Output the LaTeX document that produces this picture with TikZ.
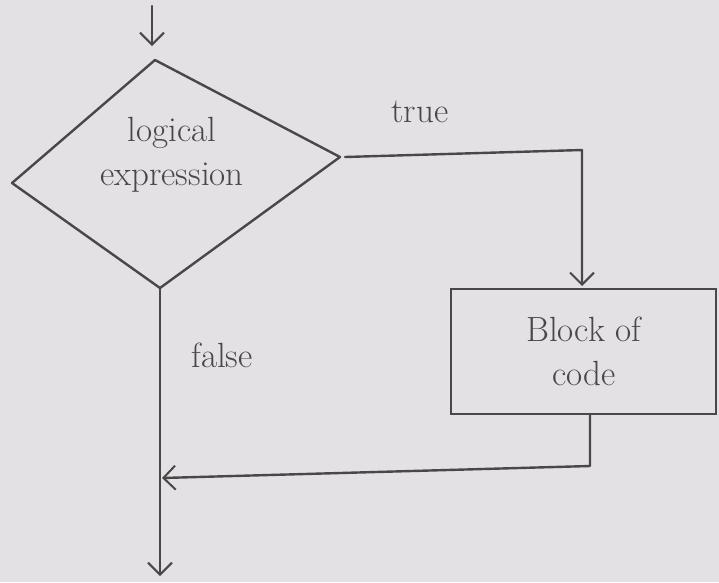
\documentclass[tikz,border=0pt]{standalone}
\usetikzlibrary{arrows.meta}
\definecolor{paper}{HTML}{E3E1E4}
\definecolor{pencil}{HTML}{4A4748}
\begin{document}
\begin{tikzpicture}[x=1pt,y=-1pt,
  line/.style={draw=pencil,line width=2.4pt,line cap=round,line join=round},
  tip/.style={-{Straight Barb[length=12pt,width=24pt,line width=2pt]}},
  lbl/.style={text=pencil,font=\fontsize{35}{44}\selectfont,align=center}]
  % paper
  \fill[paper] (0,0) rectangle (719,582);
  \useasboundingbox (0,0) rectangle (719,582);
  % decision diamond
  \coordinate (dT) at (155,60);
  \coordinate (dR) at (340,157);
  \coordinate (dB) at (160,288);
  \coordinate (dL) at (12,183);
  \draw[line] (dT) -- (dR) -- (dB) -- (dL) -- cycle;
  \node[lbl] (cond) at (172,155) {logical\\expression};
  % process box
  \node[draw=pencil,line width=2.4pt,minimum width=265pt,minimum height=125pt,
        lbl,anchor=north west] (blk) at (450,288) {Block of\\code};
  % entry
  \coordinate (in) at (152,6);
  \draw[line,tip] (in) -- (152,46);
  % true branch
  \coordinate (tc) at (582,150);
  \draw[line,tip] (345,157) -- (tc) -- (582,286);
  \node[lbl] (tl) at (420,112) {true};
  % false branch and exit
  \coordinate (out) at (160,576);
  \draw[line,tip] (dB) -- (out);
  \node[lbl] (fl) at (222,355) {false};
  % return from block
  \coordinate (rc) at (590,466);
  \coordinate (join) at (162,478);
  \draw[line,tip] (blk.south -| rc) -- (rc) -- (join);
\end{tikzpicture}
\end{document}
